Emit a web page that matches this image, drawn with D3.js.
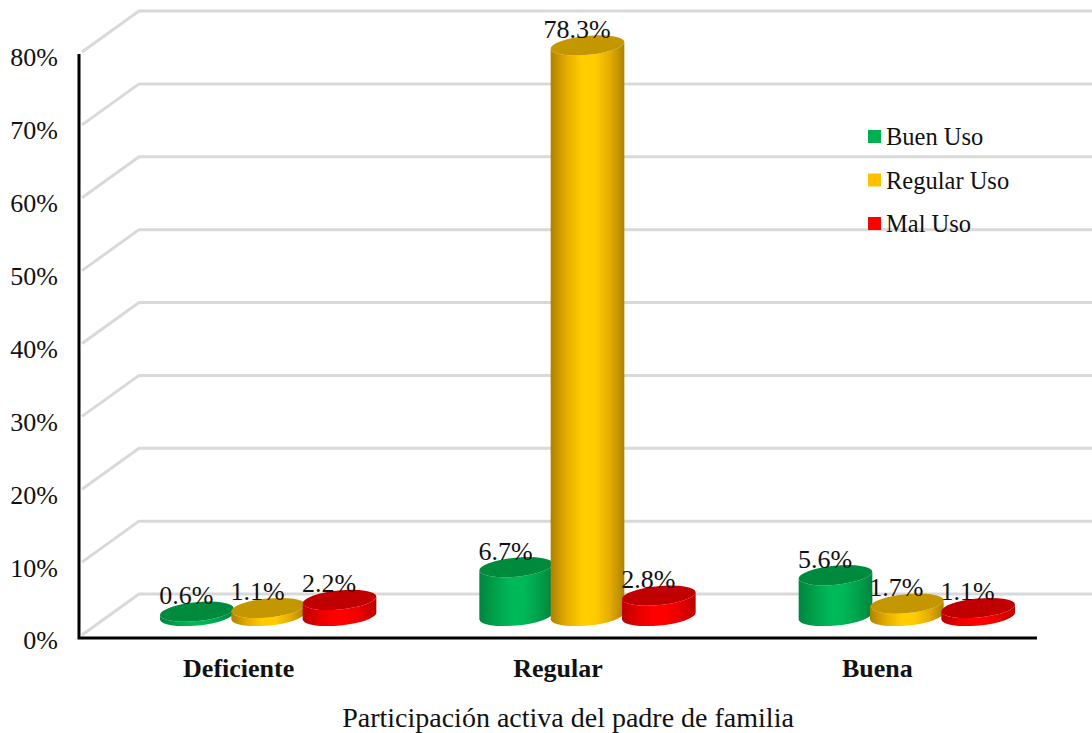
<!DOCTYPE html>
<html><head><meta charset="utf-8">
<script src="https://cdnjs.cloudflare.com/ajax/libs/d3/7.8.5/d3.min.js"></script>
<style>html,body{margin:0;padding:0;background:#fff}svg{display:block}text{font-family:"Liberation Serif",serif;fill:#111}</style>
</head><body><svg id="c" width="1092" height="733"></svg>
<script>
const categories=["Deficiente","Regular","Buena"];
const seriesNames=["Buen Uso","Regular Uso","Mal Uso"];
const buenUso=[0.6,6.7,5.6];
const regularUso=[1.1,78.3,1.7];
const malUso=[2.2,2.8,1.1];
const seriesValues=[buenUso,regularUso,malUso];
const yTicks=[0,10,20,30,40,50,60,70,80];
const axisTitle="Participación activa del padre de familia";
const palette=[
 {key:"#00b050",mid:"#00b858",soft:"#00a24c",edge:"#00843f",top:"#008a3e"},
 {key:"#ffc000",mid:"#ffcc00",soft:"#e6ad00",edge:"#ad8200",top:"#c49700"},
 {key:"#ff0000",mid:"#ff0000",soft:"#e60000",edge:"#bd0000",top:"#c00000"}];

const svg=d3.select("#c");
const L=79,R=1037,B=637,T=54,dx=60,dy=-43,gridR=1092;
const y=d3.scaleLinear().domain([0,80]).range([B,T]);
const x=d3.scaleBand().domain(categories).range([L,R]);
const inner=d3.scaleBand().domain(d3.range(3)).range([-107.5,106.5]);
const defs=svg.append("defs");
palette.forEach((p,i)=>{
 const g=defs.append("linearGradient").attr("id","g"+i).attr("x1",0).attr("x2",1).attr("y1",0).attr("y2",0);
 [[0,p.edge],[.22,p.soft],[.42,p.mid],[.6,p.mid],[.8,p.soft],[1,p.edge]].forEach(s=>g.append("stop").attr("offset",s[0]).attr("stop-color",s[1]));
});
// walls
const grid=svg.append("g").attr("stroke","#d9d9d9").attr("stroke-width",3).attr("fill","none");
yTicks.forEach(t=>{
 const f=y(t),b=f+dy;
 grid.append("path").attr("d",`M${L+3},${f-2}L${L+dx},${b}L${gridR},${b}`);
});
// cylinders
const rx=37,ry=9.5,rot=-5.5,rad=rot*Math.PI/180,cx=rx*Math.cos(rad),sy=rx*Math.sin(rad);
const baseY=y(0)-21,px=y(0)-y(1);
seriesValues.forEach((vals,s)=>{
 const g=svg.append("g");
 vals.forEach((v,c)=>{
  const X=x(categories[c])+x.bandwidth()/2+30+inner(s)+inner.bandwidth()/2;
  const top=baseY-v*px;
  g.append("path").attr("fill",`url(#g${s})`).attr("d",
   `M${X-cx},${top-sy}L${X-cx},${baseY-sy}A${rx},${ry},${rot},0,0,${X+cx},${baseY+sy}L${X+cx},${top+sy}A${rx},${ry},${rot},0,1,${X-cx},${top-sy}Z`);
  g.append("ellipse").attr("cx",0).attr("cy",0).attr("rx",rx).attr("ry",ry)
   .attr("transform",`translate(${X},${top}) rotate(${rot})`).attr("fill",palette[s].top);
 });
});
// labels
seriesValues.forEach((vals,s)=>vals.forEach((v,c)=>{
 const X=x(categories[c])+x.bandwidth()/2+30+inner(s)+inner.bandwidth()/2;
 svg.append("text").attr("x",X-10.5).attr("y",baseY-v*px-7.5).attr("text-anchor","middle")
  .attr("font-size",26).text(v.toFixed(1)+"%");
}));
// axes lines
svg.append("path").attr("fill","none").attr("stroke","#000").attr("stroke-width",3)
 .attr("d",`M${L},${T}L${L},${B+1}L${R},${B+1}`);
const ay=svg.append("g").attr("transform",`translate(${L},0)`).call(d3.axisLeft(y).tickValues(yTicks).tickSize(0).tickPadding(21).tickFormat(d=>d+"%"));
ay.select(".domain").remove();
ay.selectAll("text").attr("font-size",26).attr("dy","0.46em").style("font-family",'"Liberation Serif",serif').attr("fill","#111");
const ax=svg.append("g").attr("transform",`translate(0,${B})`).call(d3.axisBottom(x).tickSize(0).tickPadding(22));
ax.select(".domain").remove();
ax.selectAll("text").attr("font-size",26).attr("font-weight","bold").style("font-family",'"Liberation Serif",serif').attr("fill","#111");
svg.append("text").attr("x",568).attr("y",726.5).attr("text-anchor","middle").attr("font-size",28).text(axisTitle);
// legend
seriesNames.forEach((n,i)=>{
 const yy=130+i*43.5;
 svg.append("rect").attr("x",868).attr("y",yy).attr("width",13).attr("height",13).attr("fill",palette[i].key);
 svg.append("text").attr("x",886).attr("y",yy+15).attr("font-size",24.5).text(n);
});
</script></body></html>
